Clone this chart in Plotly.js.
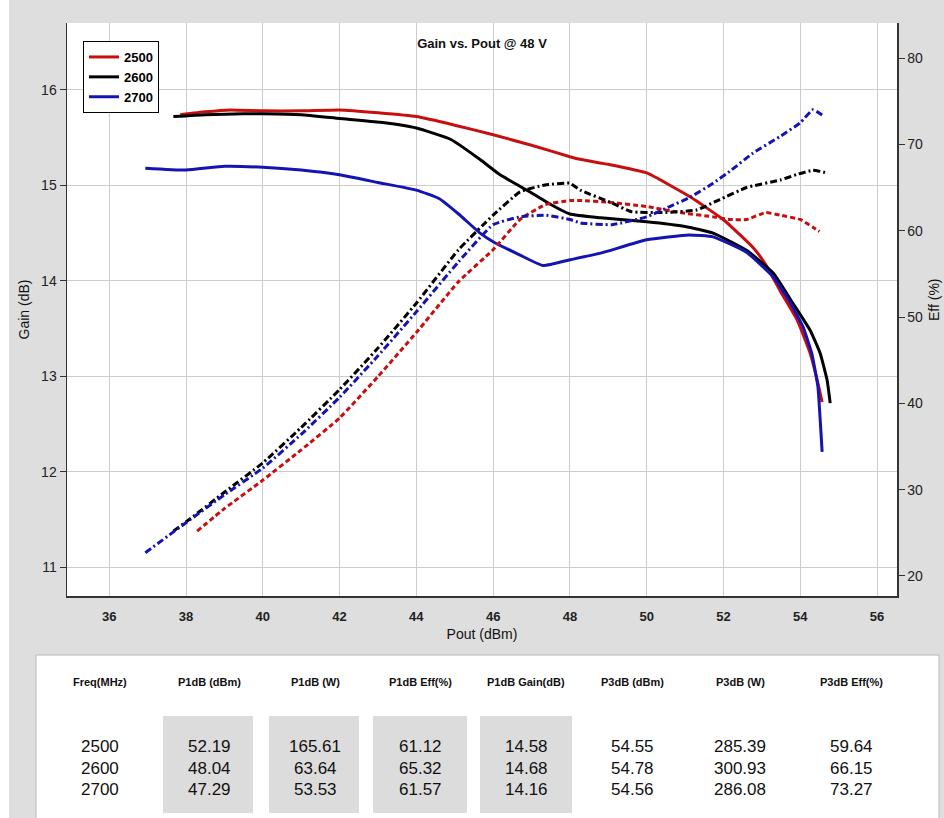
<!DOCTYPE html>
<html>
<head>
<meta charset="utf-8">
<script src="https://cdn.plot.ly/plotly-3.0.1.min.js"></script>
<style>
  html, body { margin: 0; padding: 0; background: #ffffff; }
  #chart { width: 944px; height: 818px; }
</style>
</head>
<body>
<div id="chart"></div>
<script>
// ---------------- DATA ----------------
const seriesNames = ['2500', '2600', '2700'];

// Gain (dB) vs Pout (dBm)
const pout2500Gain = [37.85, 38.5, 39.15, 40, 41, 42, 43, 44, 45, 46, 47, 48, 48.3, 49, 50, 51.13, 52, 52.77, 53.1, 53.47, 53.92, 54.26, 54.46, 54.57];
const gain2500     = [15.74, 15.77, 15.79, 15.78, 15.78, 15.79, 15.76, 15.72, 15.63, 15.53, 15.42, 15.30, 15.27, 15.22, 15.13, 14.88, 14.64, 14.35, 14.17, 13.90, 13.59, 13.24, 12.93, 12.73];

const pout2600Gain = [37.67, 38.5, 39.5, 40, 41, 42, 43.06, 44, 44.9, 45.66, 46.18, 46.96, 47.5, 48, 48.8, 50, 51, 51.73, 52.6, 53.3, 53.8, 54.26, 54.52, 54.7, 54.78];
const gain2600     = [15.72, 15.74, 15.75, 15.75, 15.74, 15.70, 15.66, 15.60, 15.48, 15.27, 15.11, 14.93, 14.80, 14.70, 14.66, 14.62, 14.57, 14.50, 14.32, 14.08, 13.77, 13.48, 13.24, 12.96, 12.72];

const pout2700Gain = [36.94, 38, 39, 40, 41, 42, 43, 44, 44.6, 45.1, 45.66, 46, 46.7, 47.3, 48, 48.8, 50, 51.1, 51.73, 52.6, 53.3, 53.7, 54.07, 54.3, 54.46, 54.52, 54.57];
const gain2700     = [15.18, 15.16, 15.20, 15.19, 15.16, 15.11, 15.03, 14.95, 14.86, 14.70, 14.50, 14.41, 14.27, 14.16, 14.22, 14.29, 14.43, 14.48, 14.46, 14.30, 14.04, 13.80, 13.52, 13.24, 12.89, 12.54, 12.21];

// Efficiency (%) vs Pout (dBm)
const pout2500Eff = [38.29, 39, 40, 41, 42, 43, 44, 45.1, 46, 46.7, 47.35, 48, 48.27, 49, 50, 50.87, 51.73, 52.17, 52.6, 53.1, 53.47, 54, 54.33, 54.5];
const eff2500     = [25.2, 27.8, 31.1, 34.6, 38.3, 43.1, 48.2, 54.1, 57.8, 61.3, 63.0, 63.5, 63.5, 63.3, 62.8, 62.1, 61.6, 61.3, 61.3, 62.1, 61.8, 61.3, 60.4, 59.9];

const pout2600Eff = [37.67, 38.1, 39, 40, 41, 42, 43, 44, 45.1, 46, 46.7, 47.35, 48, 48.27, 49.1, 49.6, 50.4, 51.3, 51.9, 52.6, 53.5, 53.9, 54.33, 54.6, 54.72];
const eff2600     = [25.2, 26.6, 29.7, 33.1, 37.2, 41.6, 46.4, 51.6, 57.8, 61.8, 64.5, 65.3, 65.5, 64.7, 63.2, 62.2, 62.1, 62.4, 63.6, 65.0, 65.9, 66.5, 67.0, 66.8, 66.6];

const pout2700Eff = [36.94, 38.1, 39, 40, 41, 42, 43, 44, 45.1, 46, 46.7, 47.35, 48, 48.27, 49.1, 50, 50.6, 51.1, 51.73, 52.2, 52.77, 53.47, 54, 54.33, 54.57];
const eff2700     = [22.7, 26.5, 29.4, 32.5, 36.4, 40.7, 45.5, 50.6, 56.4, 60.7, 61.6, 61.8, 61.3, 60.9, 60.7, 61.6, 62.8, 63.8, 65.5, 67.0, 69.0, 70.9, 72.5, 74.0, 73.4];

// Table
const tableHeaders = ['Freq(MHz)', 'P1dB (dBm)', 'P1dB (W)', 'P1dB Eff(%)', 'P1dB Gain(dB)', 'P3dB (dBm)', 'P3dB (W)', 'P3dB Eff(%)'];
const freqMHz   = ['2500', '2600', '2700'];
const p1dB_dBm  = ['52.19', '48.04', '47.29'];
const p1dB_W    = ['165.61', '63.64', '53.53'];
const p1dB_Eff  = ['61.12', '65.32', '61.57'];
const p1dB_Gain = ['14.58', '14.68', '14.16'];
const p3dB_dBm  = ['54.55', '54.78', '54.56'];
const p3dB_W    = ['285.39', '300.93', '286.08'];
const p3dB_Eff  = ['59.64', '66.15', '73.27'];

// ---------------- STYLE / LAYOUT ----------------
const colors = ['#c80f0f', '#000000', '#1414b4'];
const effDash = ['5px,3px', '7px,3px,2px,3px', '7px,3px,2px,3px'];

const W = 944, H = 818;
const L = 67, R = 897, T = 23, B = 596;
const px2x = p => (p - L) / (R - L);
const px2y = p => (B - p) / (B - T);

const gainX = [pout2500Gain, pout2600Gain, pout2700Gain];
const gainY = [gain2500, gain2600, gain2700];
const effX = [pout2500Eff, pout2600Eff, pout2700Eff];
const effY = [eff2500, eff2600, eff2700];

const traces = [];
for (let i = 0; i < 3; i++) {
  traces.push({
    x: gainX[i], y: gainY[i], type: 'scatter', mode: 'lines', name: seriesNames[i],
    line: { color: colors[i], width: 3, shape: 'spline', smoothing: 0.4 },
    xaxis: 'x', yaxis: 'y', showlegend: true
  });
}
for (let i = 0; i < 3; i++) {
  traces.push({
    x: effX[i], y: effY[i], type: 'scatter', mode: 'lines', name: seriesNames[i] + ' Eff',
    line: { color: colors[i], width: 3, dash: effDash[i], shape: 'spline', smoothing: 0.4 },
    xaxis: 'x', yaxis: 'y2', showlegend: false
  });
}

const tickFont = { family: 'Liberation Sans, Arial, sans-serif', size: 14, color: '#222' };

const annotations = [];
// right axis title
annotations.push({
  xref: 'paper', yref: 'paper', x: px2x(934), y: px2y(300), text: 'Eff (%)',
  textangle: -90, showarrow: false, xanchor: 'center', yanchor: 'middle',
  font: { family: 'Liberation Sans, Arial, sans-serif', size: 14, color: '#111' }
});

// table
const colCenters = [100, 209, 315, 420, 526, 632, 740, 851];
const headerY = 682;
const rowYs = [746, 768, 790];
const tableCols = [freqMHz, p1dB_dBm, p1dB_W, p1dB_Eff, p1dB_Gain, p3dB_dBm, p3dB_W, p3dB_Eff];
tableHeaders.forEach((h, c) => {
  annotations.push({
    xref: 'paper', yref: 'paper', x: px2x(colCenters[c]), y: px2y(headerY), text: h,
    showarrow: false, xanchor: 'center', yanchor: 'middle',
    font: { family: 'Liberation Sans Narrow, Liberation Sans, Arial, sans-serif', size: 11, color: '#111', weight: 'bold' }
  });
});
tableCols.forEach((col, c) => {
  col.forEach((v, r) => {
    annotations.push({
      xref: 'paper', yref: 'paper', x: px2x(colCenters[c]), y: px2y(rowYs[r]), text: v,
      showarrow: false, xanchor: 'center', yanchor: 'middle',
      font: { family: 'Liberation Sans Narrow, Liberation Sans, Arial, sans-serif', size: 17, color: '#111' }
    });
  });
});

const shapes = [];
// white left strip
shapes.push({ type: 'rect', xref: 'paper', yref: 'paper', x0: px2x(-2), x1: px2x(9), y0: px2y(H + 5), y1: px2y(-5),
  fillcolor: '#ffffff', line: { width: 0 }, layer: 'below' });
// table panel
shapes.push({ type: 'rect', xref: 'paper', yref: 'paper', x0: px2x(36), x1: px2x(939), y0: px2y(H + 5), y1: px2y(655),
  fillcolor: '#ffffff', line: { color: '#b8b8b8', width: 1 }, layer: 'below' });
// shaded cells
[[163, 253], [269, 359], [373, 467], [480, 572]].forEach(b => {
  shapes.push({ type: 'rect', xref: 'paper', yref: 'paper', x0: px2x(b[0]), x1: px2x(b[1]), y0: px2y(813), y1: px2y(716),
    fillcolor: '#dcdcdc', line: { width: 0 }, layer: 'below' });
});

const layout = {
  width: W, height: H,
  margin: { l: L, r: W - R, t: T, b: H - B, pad: 0 },
  paper_bgcolor: '#dedede',
  plot_bgcolor: '#ffffff',
  title: {
    text: 'Gain vs. Pout @ 48 V', x: 0.5, xref: 'paper', xanchor: 'center',
    y: 1 - 43 / H, yref: 'container', yanchor: 'middle',
    font: { family: 'Liberation Sans, Arial, sans-serif', size: 13, color: '#111', weight: 'bold' }
  },
  xaxis: {
    range: [34.9, 56.52], tick0: 36, dtick: 2, showgrid: true, gridcolor: '#cccccc', gridwidth: 1,
    zeroline: false, showline: true, linecolor: '#333', linewidth: 1.5, mirror: false,
    ticks: '', ticklabelstandoff: 8,
    tickfont: { family: 'Liberation Sans, Arial, sans-serif', size: 13, color: '#222', weight: 'bold' },
    title: { text: 'Pout (dBm)', standoff: 6, font: { family: 'Liberation Sans, Arial, sans-serif', size: 14, color: '#111' } },
    automargin: false
  },
  yaxis: {
    range: [10.70, 16.70], tick0: 11, dtick: 1, showgrid: true, gridcolor: '#cccccc', gridwidth: 1,
    zeroline: false, showline: true, linecolor: '#333', linewidth: 1.5,
    ticks: 'outside', ticklen: 6, tickcolor: '#333',
    tickfont: tickFont,
    title: { text: 'Gain (dB)', standoff: 8, font: { family: 'Liberation Sans, Arial, sans-serif', size: 14, color: '#111' } },
    automargin: false
  },
  yaxis2: {
    range: [17.68, 84.06], tick0: 20, dtick: 10, overlaying: 'y', side: 'right', showgrid: false,
    zeroline: false, showline: true, linecolor: '#333', linewidth: 1.5,
    ticks: 'outside', ticklen: 6, tickcolor: '#333',
    tickfont: tickFont, automargin: false
  },
  legend: {
    x: px2x(83), y: px2y(41), xanchor: 'left', yanchor: 'top',
    bgcolor: '#ffffff', bordercolor: '#000000', borderwidth: 1,
    font: { family: 'Liberation Sans, Arial, sans-serif', size: 13, color: '#000', weight: 'bold' },
    tracegroupgap: 0, itemwidth: 30
  },
  showlegend: true,
  annotations: annotations,
  shapes: shapes
};

Plotly.newPlot('chart', traces, layout, { displayModeBar: false, staticPlot: true });
</script>
</body>
</html>
